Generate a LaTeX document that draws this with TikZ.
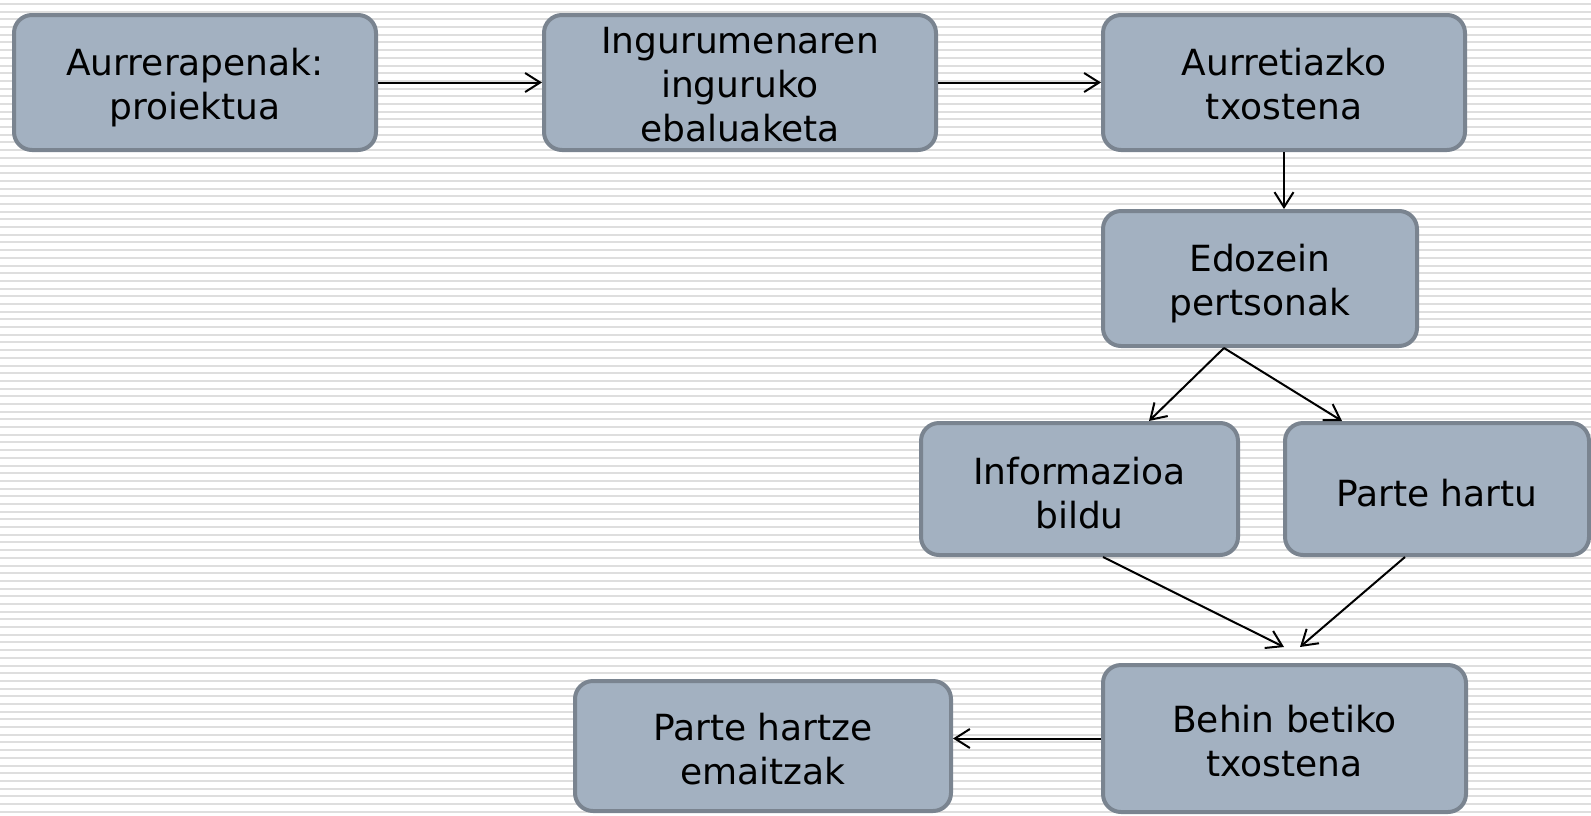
\documentclass[tikz,border=0pt]{standalone}
\usepackage{fontspec}
\setmainfont{DejaVu Sans}
\usetikzlibrary{arrows.meta}
\definecolor{stripe}{RGB}{222,222,222}
\definecolor{boxfill}{RGB}{163,177,193}
\definecolor{boxline}{RGB}{122,132,144}
\tikzset{
  stepbox/.style={draw=boxline, fill=boxfill, line width=4pt, rounded corners=18pt,
    inner sep=0pt},
  lbl/.style={inner sep=0pt, align=center, text=black,
    font=\fontsize{36}{44}\selectfont},
  conn/.style={line width=2pt, draw=black, -{Straight Barb[length=15pt,width=19pt]}}
}
\begin{document}
\begin{tikzpicture}[x=1pt,y=-1pt]
\useasboundingbox (0,0) rectangle (1591,815);
\fill[white] (0,0) rectangle (1591,815);
\foreach \k in {0,...,105} {
  \fill[stripe] (0,{4+\k*100/13-1}) rectangle (1591,{4+\k*100/13+1});
}
\node[stepbox, minimum width=362pt, minimum height=135pt] (b1) at (195,82.5) {};
\node[stepbox, minimum width=392pt, minimum height=135pt] (b2) at (740,82.5) {};
\node[stepbox, minimum width=362pt, minimum height=135pt] (b3) at (1284,82.5) {};
\node[stepbox, minimum width=314pt, minimum height=135pt] (b4) at (1260,278.5) {};
\node[stepbox, minimum width=317pt, minimum height=132pt] (b5) at (1079.5,489) {};
\node[stepbox, minimum width=304pt, minimum height=132pt] (b6) at (1437,489) {};
\node[stepbox, minimum width=363pt, minimum height=147pt] (b7) at (1284.5,738.5) {};
\node[stepbox, minimum width=376pt, minimum height=130pt] (b8) at (763,746) {};

\node[lbl] (t1) at ([yshift=-5pt]b1.center) {Aurrerapenak:\\proiektua};
\node[lbl] (t2) at ([yshift=-2pt]b2.center) {Ingurumenaren\\inguruko\\ebaluaketa};
\node[lbl] (t3) at ([yshift=-2pt]b3.center) {Aurretiazko\\txostena};
\node[lbl] (t4) at ([yshift=-5pt]b4.center) {Edozein\\pertsonak};
\node[lbl] (t5) at ([yshift=-4pt]b5.center) {Informazioa\\bildu};
\node[lbl] (t6) at ([yshift=-4pt]b6.center) {Parte hartu};
\node[lbl] (t7) at ([yshift=-2.5pt]b7.center) {Behin betiko\\txostena};
\node[lbl] (t8) at ([yshift=-3pt]b8.center) {Parte hartze\\emaitzak};

\coordinate (split) at ([xshift=-36pt]b4.south);
\coordinate (in7a) at ([xshift=-0.5pt,yshift=16pt]b7.north);
\coordinate (in7b) at ([xshift=15.5pt,yshift=16pt]b7.north);

\draw[conn] (b1.east) -- (b2.west);
\draw[conn] (b2.east) -- (b3.west);
\draw[conn] (b3.south) -- (b3.south |- b4.north);
\draw[conn] (split) -- ([xshift=69.5pt]b5.north);
\draw[conn] (split) -- ([xshift=-95pt]b6.north);
\draw[conn] ([xshift=23.5pt]b5.south) -- (in7a);
\draw[conn] ([xshift=-32pt]b6.south) -- (in7b);
\draw[conn] (b7.west) -- (b7.west -| b8.east);
\end{tikzpicture}
\end{document}
